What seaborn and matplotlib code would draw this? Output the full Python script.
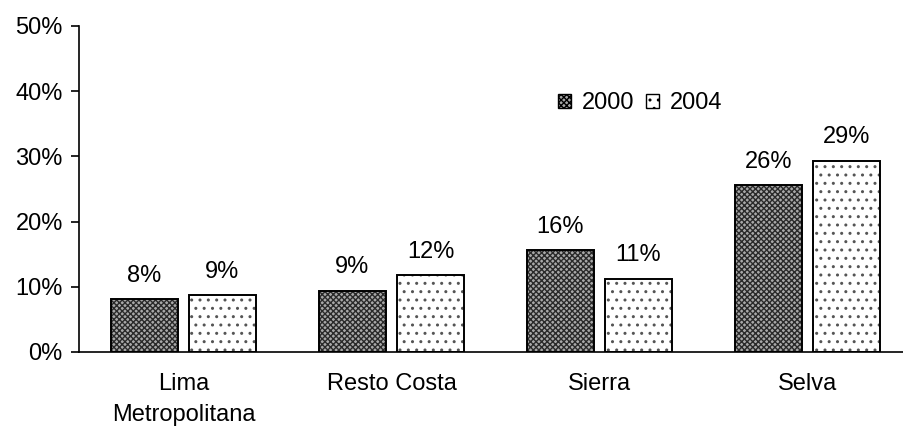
import matplotlib
matplotlib.use("Agg")
import matplotlib.pyplot as plt
import matplotlib.patches as mpatches
import pandas as pd
import seaborn as sns

regions = ["Lima\nMetropolitana", "Resto Costa", "Sierra", "Selva"]
years = ["2000", "2004"]
share_2000 = [0.081, 0.094, 0.156, 0.256]
share_2004 = [0.087, 0.118, 0.112, 0.293]

df = pd.DataFrame({
    "region": regions * 2,
    "year": [years[0]] * 4 + [years[1]] * 4,
    "share": share_2000 + share_2004,
})

sns.set_style("white")
plt.rcParams["font.family"] = ["Liberation Sans", "DejaVu Sans"]
plt.rcParams["text.color"] = "black"
plt.rcParams["xtick.color"] = "black"
plt.rcParams["ytick.color"] = "black"
plt.rcParams["hatch.linewidth"] = 1.0
FS = 17

fig = plt.figure(figsize=(9.04, 4.28), dpi=100)
ax = fig.add_axes([79.5 / 904, 1 - 352 / 428, 832 / 904, 326 / 428])

sns.barplot(data=df, x="region", y="share", hue="year", order=regions,
            palette=["#a8a8a8", "white"], width=0.75, gap=0.15,
            edgecolor="black", linewidth=1.4, ax=ax, legend=False)

hatches = ["xxxxxx", ".."]
hcolors = ["#2a2a2a", "#555555"]
for cont, h, hc in zip(ax.containers, hatches, hcolors):
    for p in cont:
        p.set_hatch(h)
        p._hatch_color = matplotlib.colors.to_rgba(hc)
    vals = [p.get_height() for p in cont]
    ax.bar_label(cont, labels=[f"{v * 100:.0f}%" for v in vals], padding=9,
                 fontsize=FS, color="black")

ax.set_ylim(0, 0.5)
ax.set_xlim(-0.5, 3.5)
ax.set_yticks([0, 0.1, 0.2, 0.3, 0.4, 0.5])
ax.set_yticklabels([f"{t}%" for t in range(0, 60, 10)], fontsize=FS)
ax.set_xticks(range(4))
ax.set_xticklabels(regions, fontsize=FS, linespacing=1.55)
ax.set_xticks([-0.5, 0.5, 1.5, 2.5, 3.5], minor=True)
ax.tick_params(axis="x", which="major", length=0, pad=15)
ax.tick_params(axis="x", which="minor", length=6, width=1.2, color="black", direction="out")
ax.tick_params(axis="y", length=6, width=1.2, color="black", direction="out", left=True, pad=6)
ax.set_xlabel("")
ax.set_ylabel("")

for side in ["top", "right"]:
    ax.spines[side].set_visible(False)
for side in ["left", "bottom"]:
    ax.spines[side].set_color("black")
    ax.spines[side].set_linewidth(1.2)

handles = []
for i, y in enumerate(years):
    src = ax.containers[i][0]
    handles.append(mpatches.Patch(facecolor=src.get_facecolor(), edgecolor="black",
                                  hatch=hatches[i], linewidth=1.0, label=y))
leg = fig.legend(handles=handles, loc="center", bbox_to_anchor=(640 / 904, 1 - 103 / 428),
                 ncol=2, frameon=False, fontsize=FS, handlelength=0.55, handleheight=0.55,
                 handletextpad=0.45, columnspacing=0.5)

fig.savefig("out.png", dpi=100)
